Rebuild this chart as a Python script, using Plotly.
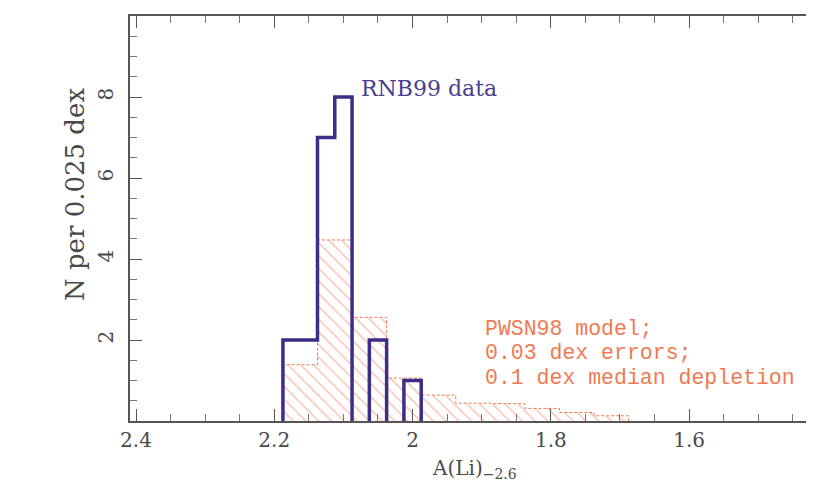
import plotly.graph_objects as go

# ---- data ----
data_centers = [2.175, 2.15, 2.125, 2.10, 2.075, 2.05, 2.025, 2.00]
data_counts = [2, 2, 7, 8, 0, 2, 0, 1]
data_width = 0.025

model_centers = [2.1625, 2.1125, 2.0625, 2.0125, 1.9625, 1.9125, 1.8625, 1.8125, 1.7625, 1.7125]
model_counts = [1.39, 4.47, 2.56, 1.06, 0.64, 0.44, 0.43, 0.31, 0.21, 0.13]
model_width = 0.05

x_tickvals = [2.4, 2.2, 2.0, 1.8, 1.6]
x_ticktext = ["2.4", "2.2", "2", "1.8", "1.6"]
y_tickvals = [2, 4, 6, 8]
y_ticktext = ["2", "4", "6", "8"]

model_lines = ["PWSN98 model;", "0.03 dex errors;", "0.1 dex median depletion"]
model_line_y = [2.27, 1.667, 1.062]

BLUE = "#3b2e86"
BLUE_TXT = "#4a3f93"
ORANGE = "#ef7a52"
AXC = "#555555"
TXT = "#4a4a4a"
FONT = "DejaVu Serif"
MONO = "Liberation Mono"


def step_path(centers, counts, width):
    xs, ys = [], []
    run = []
    for c, n in list(zip(centers, counts)) + [(None, 0)]:
        if n and c is not None:
            run.append((c, n))
            continue
        if run:
            lo = run[0][0] + width / 2
            xs += [lo, lo]
            ys += [0, run[0][1]]
            for k, (cc, nn) in enumerate(run):
                right = cc - width / 2
                xs.append(right)
                ys.append(nn)
                nxt = run[k + 1][1] if k + 1 < len(run) else 0
                xs.append(right)
                ys.append(nxt)
            xs.append(None)
            ys.append(None)
            run = []
    return xs, ys


fig = go.Figure()

fig.add_trace(go.Bar(
    x=model_centers, y=model_counts, width=model_width,
    marker=dict(color="rgba(255,255,255,0)", line=dict(width=0),
                pattern=dict(shape="\\", fgcolor=ORANGE, bgcolor="rgba(255,255,255,0)",
                             size=9, solidity=0.15)),
    showlegend=False, hoverinfo="skip"))

mx, my = step_path(model_centers, model_counts, model_width)
fig.add_trace(go.Scatter(x=mx, y=my, mode="lines",
                         line=dict(color=ORANGE, width=1, dash="3px,2px"),
                         showlegend=False, hoverinfo="skip"))

bx, by = step_path(data_centers, data_counts, data_width)
fig.add_trace(go.Scatter(x=bx, y=by, mode="lines",
                         line=dict(color=BLUE, width=3.5),
                         showlegend=False, hoverinfo="skip"))

ann = []
ann.append(dict(x=2.078, y=8.22, xref="x", yref="y", text="RNB99 data",
                showarrow=False, xanchor="left", yanchor="middle",
                font=dict(family=FONT, size=22, color=BLUE_TXT)))
for txt, yv in zip(model_lines, model_line_y):
    ann.append(dict(x=1.8976, y=yv, xref="x", yref="y", text=txt,
                    showarrow=False, xanchor="left", yanchor="middle",
                    font=dict(family=MONO, size=21.5, color=ORANGE)))
ann.append(dict(x=1.910, y=-0.118, xref="x", yref="paper", text="A(Li)<sub>−2.6</sub>",
                showarrow=False, xanchor="center", yanchor="middle",
                font=dict(family=FONT, size=20, color=TXT)))
ann.append(dict(x=-0.08, y=0.56, xref="paper", yref="paper", text="N per 0.025 dex",
                showarrow=False, xanchor="center", yanchor="middle", textangle=-90,
                font=dict(family=FONT, size=26, color=TXT)))

axis_common = dict(showgrid=False, zeroline=False, showline=True, linecolor=AXC, linewidth=1.5,
                   mirror="allticks", ticks="inside", ticklen=12, tickwidth=1.3, tickcolor=AXC,
                   tickfont=dict(family=FONT, size=20, color=TXT))

fig.update_layout(
    width=814, height=485,
    margin=dict(l=122, r=1, t=8, b=72),
    paper_bgcolor="white", plot_bgcolor="white",
    bargap=0, barmode="overlay",
    annotations=ann,
    xaxis=dict(range=[2.4087, 1.4121], tickvals=x_tickvals, ticktext=x_ticktext,
               minor=dict(dtick=0.05, tick0=0, ticks="inside", ticklen=7, tickcolor="#777777", tickwidth=1.2),
               **axis_common),
    yaxis=dict(range=[0, 10], tickvals=y_tickvals, ticktext=y_ticktext, tickangle=-90,
               ticklabelstandoff=7,
               minor=dict(dtick=0.5, tick0=0, ticks="inside", ticklen=7, tickcolor="#777777", tickwidth=1.2),
               **axis_common),
)

fig.write_html("out.html")
